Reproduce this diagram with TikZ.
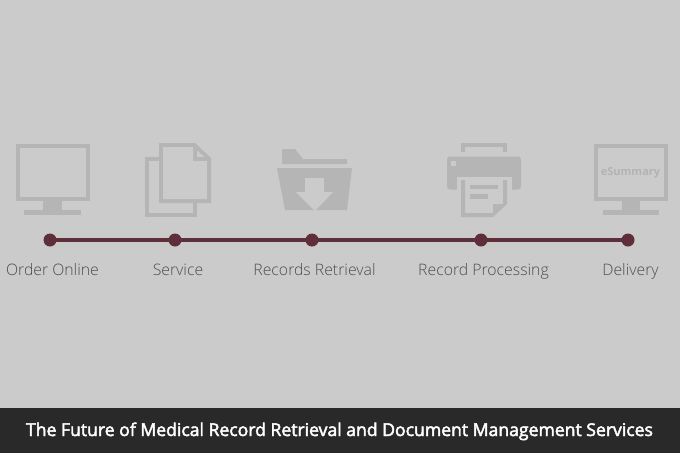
\documentclass[tikz,border=0pt]{standalone}
\usepackage{fontspec}
\setmainfont{Open Sans}
\newfontfamily\lblfont{Open Sans Light}
\newfontfamily\capfont[FakeBold=2.6]{Open Sans}
\definecolor{bgc}{HTML}{CBCBCB}
\definecolor{ico}{HTML}{B5B5B5}
\definecolor{barc}{HTML}{292929}
\definecolor{linec}{HTML}{5E2F3A}
\definecolor{txtc}{HTML}{4D4D4D}
\definecolor{esum}{HTML}{B3B3B3}
\tikzset{
 dotn/.style={circle,fill=linec,inner sep=0pt,minimum size=13pt},
 lbl/.style={text=txtc,font=\lblfont\fontsize{15.8}{17}\selectfont,inner sep=0pt,anchor=base},
 icon/.style={fill=ico,draw=none},
 hole/.style={fill=bgc,draw=none}
}
\begin{document}
\begin{tikzpicture}[x=1pt,y=-1pt]
\useasboundingbox (0,0) rectangle (680,453);
\fill[bgc] (0,0) rectangle (680,453);
\fill[barc] (0,408) rectangle (680,453);
% monitor 1
\fill[icon] (16,144) rectangle (90,201);
\fill[hole] (20,148) rectangle (86,197);
\fill[icon] (43,201) rectangle (62,211);
\fill[icon] (24,210) rectangle (81,215);
% documents
\fill[icon] (145,157) rectangle (197,217);
\fill[hole] (149,161) rectangle (193,213);
\fill[icon] (159,143) -- (195,143) -- (211,158) -- (211,203) -- (159,203) -- cycle;
\fill[hole] (163,147) -- (193,147) -- (193,161) -- (207,161) -- (207,199) -- (163,199) -- cycle;
\fill[hole] (197,150.5) -- (204.5,157) -- (197,157) -- cycle;
% folder
\fill[icon] (282,149) -- (295,149) -- (303,159) -- (347,159) -- (347,164) -- (282,164) -- cycle;
\fill[icon] (277,168) -- (352,168) -- (347,210) -- (285,210) -- cycle;
\fill[hole] (305,178) -- (324,178) -- (324,192) -- (333,192) -- (315,211) -- (296,192) -- (305,192) -- cycle;
% printer
\fill[icon] (461,142.5) rectangle (507,152);
\fill[hole] (465,146.5) rectangle (503,152);
\fill[icon,rounded corners=3pt] (447,156.5) rectangle (521,189.5);
\fill[hole] (451,161) rectangle (456,166);
\fill[hole] (457,176.5) rectangle (512,217);
\fill[icon] (461,180) -- (465,180) -- (465,213) -- (493,213) -- (493,204) -- (503,204) -- (503,180) -- (507,180) -- (507,204) -- (493,217) -- (461,217) -- cycle;
\fill[icon] (470,185) rectangle (498,189);
\fill[icon] (470,194) rectangle (488,199);
% monitor 2
\fill[icon] (594,144) rectangle (668,201);
\fill[hole] (598,148) rectangle (664,197);
\fill[icon] (622,201) rectangle (640,211);
\fill[icon] (603,210) rectangle (659,215);
\node[text=esum,font=\bfseries\fontsize{11}{11}\selectfont,inner sep=0pt] (esum) at (630.5,172.5) {eSummary};
% timeline
\node[dotn] (d1) at (50,240) {};
\node[dotn] (d2) at (175,240) {};
\node[dotn] (d3) at (312,240) {};
\node[dotn] (d4) at (481,240) {};
\node[dotn] (d5) at (628,240) {};
\draw[linec,line width=3.4pt] (d1.center) -- (d2.center) -- (d3.center) -- (d4.center) -- (d5.center);
% labels
\node[lbl] (l1) at (52.5,275) {Order Online};
\node[lbl] (l2) at (178,275) {Service};
\node[lbl] (l3) at (314.5,275) {Records Retrieval};
\node[lbl] (l4) at (483.5,275) {Record Processing};
\node[lbl] (l5) at (630.5,275) {Delivery};
\node[text=white,font=\capfont\fontsize{17.6}{18}\selectfont,inner sep=0pt,anchor=base] (cap) at (339.5,436) {The Future of Medical Record Retrieval and Document Management Services};
\end{tikzpicture}
\end{document}
